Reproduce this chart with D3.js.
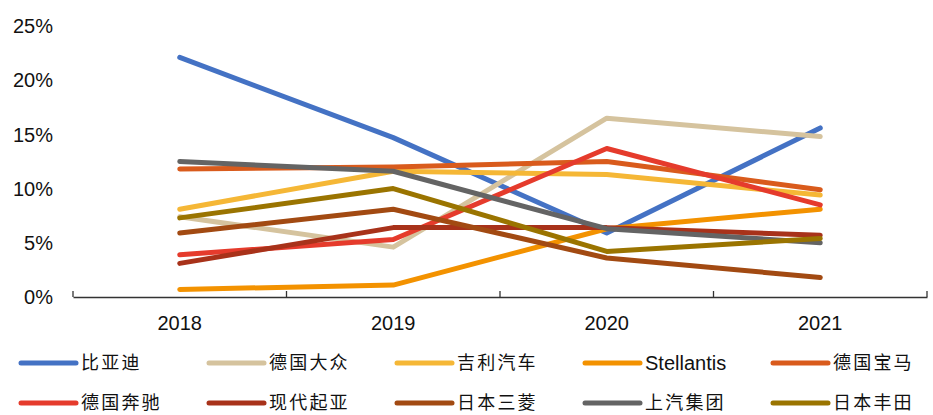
<!DOCTYPE html>
<html><head><meta charset="utf-8">
<script src="https://cdn.jsdelivr.net/npm/d3@7"></script>
<style>body{margin:0;background:#fff}svg{display:block}</style>
</head><body>
<script>
const years = ["2018","2019","2020","2021"];
const yTicks = [0,5,10,15,20,25];
const seriesNames = ["比亚迪","德国大众","吉利汽车","Stellantis","德国宝马","德国奔驰","现代起亚","日本三菱","上汽集团","日本丰田"];
const seriesColors = ["#4472C4","#D5C39E","#F5B736","#F39200","#D95B1C","#E53B2C","#A8321A","#A24A12","#646464","#9A7400"];
const byd       = [22.1,14.7,5.9,15.6];
const vw        = [7.4,4.6,16.5,14.8];
const geely     = [8.1,11.6,11.3,9.4];
const stellantis= [0.7,1.1,6.3,8.1];
const bmw       = [11.8,12.0,12.5,9.9];
const benz      = [3.9,5.3,13.7,8.5];
const hyundai   = [3.1,6.4,6.4,5.7];
const mitsubishi= [5.9,8.1,3.6,1.8];
const saic      = [12.5,11.6,6.3,5.0];
const toyota    = [7.3,10.0,4.2,5.4];
const seriesValues = [byd,vw,geely,stellantis,bmw,benz,hyundai,mitsubishi,saic,toyota];

const W=933,H=415;
const svg=d3.select("body").append("svg").attr("width",W).attr("height",H);
const x=d3.scaleBand().domain(years).range([73,927]);
const y=d3.scaleLinear().domain([0,25]).range([297,26]);
const latin="'Liberation Sans',Arial,sans-serif";
const cjk="'Noto Sans CJK SC','Liberation Sans',sans-serif";

// y labels
svg.append("g").selectAll("text").data(yTicks).join("text")
  .attr("x",53).attr("y",d=>y(d)).attr("dy","0.36em").attr("text-anchor","end")
  .attr("font-family",latin).attr("font-size",20).attr("fill","#111")
  .text(d=>d+"%");

// x axis
const xa=svg.append("g").attr("transform","translate(0,297)")
  .call(d3.axisBottom(x).tickSize(0).tickPadding(15));
xa.select(".domain").attr("stroke","#333").attr("stroke-width",1.3);
xa.selectAll("text").attr("font-family",latin).attr("font-size",20).attr("fill","#111").attr("dy","0.9em");
const bounds=[...years.map(d=>x(d)),x.range()[1]];
xa.selectAll(".bt").data(bounds).join("line").attr("class","bt")
  .attr("x1",d=>d).attr("x2",d=>d).attr("y1",0).attr("y2",-6).attr("stroke","#333").attr("stroke-width",1.3);

// lines
const line=d3.line().x((d,i)=>x(years[i])+x.bandwidth()/2).y(d=>y(d));
svg.append("g").selectAll("path").data(seriesValues).join("path")
  .attr("d",line).attr("fill","none")
  .attr("stroke",(d,i)=>seriesColors[i]).attr("stroke-width",5)
  .attr("stroke-linecap","round").attr("stroke-linejoin","round");

// legend
const lg=svg.append("g").selectAll("g").data(seriesNames).join("g")
  .attr("transform",(d,i)=>`translate(${21+(i%5)*188},${i<5?363:403})`);
lg.append("line").attr("x1",0).attr("x2",55).attr("y1",0).attr("y2",0)
  .attr("stroke",(d,i)=>seriesColors[i]).attr("stroke-width",5).attr("stroke-linecap","round");
lg.append("text").attr("x",60).attr("y",0).attr("dy","0.35em")
  .attr("font-family",d=>/^[A-Za-z]/.test(d)?latin:cjk).attr("font-size",d=>/^[A-Za-z]/.test(d)?20:18)
  .attr("letter-spacing",d=>/^[A-Za-z]/.test(d)?0:2.2)
  .attr("fill","#111").text(d=>d);
</script>
</body></html>
